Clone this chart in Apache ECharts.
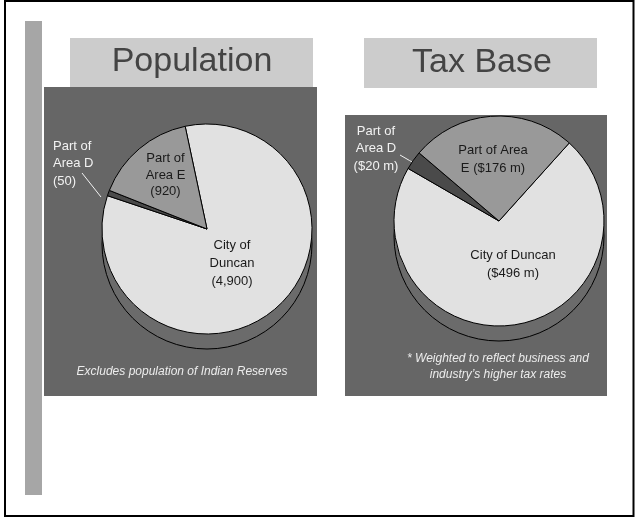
<!DOCTYPE html>
<html>
<head>
<meta charset="utf-8">
<script src="https://cdn.jsdelivr.net/npm/echarts@6/dist/echarts.min.js"></script>
<style>
html,body{margin:0;padding:0;background:#fff;}
#c{width:636px;height:518px;}
</style>
</head>
<body>
<div id="c"></div>
<script>
// ---- data ----
const categories = ['City of Duncan', 'Part of Area D', 'Part of Area E'];
const popValues = [4900, 50, 920];
const popLabels = ['City of\nDuncan\n(4,900)', 'Part of\nArea D\n(50)', 'Part of\nArea E\n(920)'];
const taxValues = [496, 20, 176];
const taxLabels = ['City of Duncan\n($496 m)', 'Part of\nArea D\n($20 m)', 'Part of Area\nE ($176 m)'];
const titles = ['Population', 'Tax Base'];
const notes = ['Excludes population of Indian Reserves', '* Weighted to reflect business and\nindustry\u2019s higher tax rates'];

// ---- styling / layout ----
const FONT = "'Liberation Sans', Arial, sans-serif";
const sliceColors = ['#e1e1e1', '#4a4a4a', '#999999'];
const R = 105, DEPTH = 15;
const pies = [
  {center: [207, 229], start: 102, values: popValues, labels: popLabels,
   lay: [
     {x: 232, y: 263, align: 'center', lh: 18},
     {x: 53, y: 163.5, align: 'left', lh: 17.5, line: [[101, 197], [91.5, 185], [82, 173]]},
     {x: 165.5, y: 175, align: 'center', lh: 16.5}
   ]},
  {center: [499, 221], start: 48, values: taxValues, labels: taxLabels,
   lay: [
     {x: 513, y: 264, align: 'center', lh: 18},
     {x: 376, y: 148.5, align: 'center', lh: 17.5, line: [[419, 166], [409.5, 160.5], [400, 155]]},
     {x: 493, y: 159, align: 'center', lh: 18}
   ]}
];

const series = [];
pies.forEach((p, pi) => {
  const total = p.values.reduce((a, b) => a + b, 0);
  // side (depth) of the pie
  series.push({
    type: 'pie', silent: true, z: 1, animation: false,
    center: [p.center[0], p.center[1] + DEPTH], radius: R,
    label: {show: false}, labelLine: {show: false},
    itemStyle: {color: '#6b6b6b', borderColor: '#000', borderWidth: 1},
    data: [{value: total, name: 'side'}]
  });
  series.push({
    type: 'pie', z: 2, animation: false, silent: true,
    center: p.center, radius: R, startAngle: p.start, clockwise: true,
    avoidLabelOverlap: false,
    itemStyle: {borderColor: '#000', borderWidth: 1},
    data: p.values.map((v, i) => ({
      value: v, name: categories[i],
      itemStyle: {color: sliceColors[i]},
      label: {
        show: true, position: i === 1 ? 'outside' : 'inside',
        formatter: () => p.labels[i],
        fontFamily: FONT, fontSize: 13, lineHeight: p.lay[i].lh,
        color: i === 1 ? '#f2f2f2' : '#1a1a1a', align: p.lay[i].align
      },
      labelLine: i === 1 ? {show: true, length: 10, length2: 10, smooth: false,
        lineStyle: {color: '#f2f2f2', width: 1}} : {show: false}
    })),
    labelLayout: function (params) {
      const l = p.lay[params.dataIndex];
      const o = {x: l.x, y: l.y, align: l.align, verticalAlign: 'middle'};
      if (l.line) o.labelLinePoints = l.line;
      return o;
    }
  });
});

const graphic = [
  {type: 'rect', z: 0, shape: {x: 25, y: 21, width: 17, height: 474}, style: {fill: '#a6a6a6'}},
  {type: 'rect', z: 0, shape: {x: 70, y: 38, width: 243, height: 50}, style: {fill: '#cccccc'}},
  {type: 'rect', z: 0, shape: {x: 364, y: 38, width: 233, height: 50}, style: {fill: '#cccccc'}},
  {type: 'rect', z: 0, shape: {x: 44, y: 87, width: 273, height: 309}, style: {fill: '#666666'}},
  {type: 'rect', z: 0, shape: {x: 345, y: 115, width: 262, height: 281}, style: {fill: '#666666'}},
  {type: 'text', z: 1, x: 192, y: 62, style: {text: titles[0], font: '34px ' + FONT, fill: '#444444', textAlign: 'center', textVerticalAlign: 'middle'}},
  {type: 'text', z: 1, x: 482, y: 63, style: {text: titles[1], font: '34px ' + FONT, fill: '#444444', textAlign: 'center', textVerticalAlign: 'middle'}},
  {type: 'text', z: 1, x: 182, y: 372, style: {text: notes[0], font: 'italic 12px ' + FONT, fill: '#ececec', textAlign: 'center', textVerticalAlign: 'middle'}},
  {type: 'text', z: 1, x: 498, y: 367, style: {text: notes[1], font: 'italic 12px ' + FONT, lineHeight: 16, fill: '#ececec', textAlign: 'center', textVerticalAlign: 'middle'}},
  {type: 'rect', z: 10, shape: {x: 5, y: 1, width: 628.5, height: 515}, style: {fill: null, stroke: '#000', lineWidth: 2}}
];

const chart = echarts.init(document.getElementById('c'), null, {renderer: 'canvas'});
chart.setOption({animation: false, backgroundColor: '#ffffff', graphic: graphic, series: series});
</script>
</body>
</html>
